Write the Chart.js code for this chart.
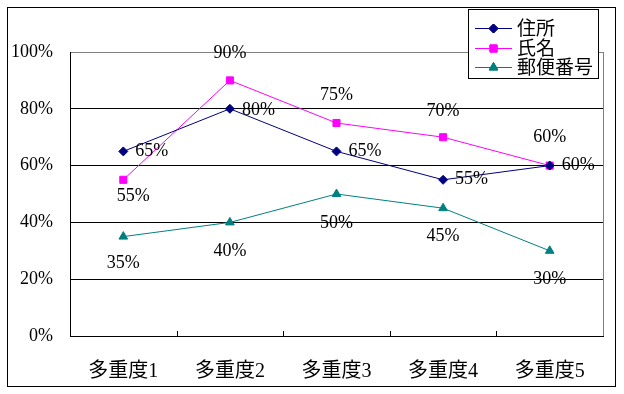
<!DOCTYPE html>
<html>
<head>
<meta charset="utf-8">
<script src="https://cdn.jsdelivr.net/npm/chart.js@4.4.0/dist/chart.umd.min.js"></script>
<style>
  body { margin: 0; background: #fff; }
  canvas { display: block; }
</style>
</head>
<body>
<canvas id="dataChart" width="624" height="394"></canvas>
<script>
// data
var categories = ['多重度1', '多重度2', '多重度3', '多重度4', '多重度5'];
var seriesNames = ['住所', '氏名', '郵便番号'];
var jusho = [65, 80, 65, 55, 60];
var shimei = [55, 90, 75, 70, 60];
var yubin = [35, 40, 50, 45, 30];

// where each value label sits relative to its point [dx, dy, align]
var labelSpots = [
    [[12, 0, 'left'], [12, 1, 'left'], [12, 0, 'left'], [12, -1, 'left'], [12, 0, 'left']],
    [[10, 16, 'center'], [0, -27, 'center'], [0, -28, 'center'], [0, -26, 'center'], [0, -28, 'center']],
    [[0, 27, 'center'], [0, 29, 'center'], [0, 29, 'center'], [0, 28, 'center'], [0, 28, 'center']]
];

var serif = '"Liberation Serif", "Times New Roman", "Noto Sans CJK JP", serif';
var cjk = '"Noto Sans CJK JP", sans-serif';

var valueLabels = {
    id: 'valueLabels',
    afterDatasetsDraw: function(chart) {
        var ctx = chart.ctx;
        ctx.save();
        ctx.font = '18px ' + serif;
        ctx.fillStyle = '#000';
        ctx.textBaseline = 'middle';
        chart.data.datasets.forEach(function(ds, d) {
            chart.getDatasetMeta(d).data.forEach(function(pt, i) {
                var s = labelSpots[d][i];
                ctx.textAlign = s[2];
                ctx.fillText(ds.data[i] + '%', pt.x + s[0], pt.y + s[1]);
            });
        });
        ctx.restore();
    }
};

var frame = {
    id: 'frame',
    beforeDatasetsDraw: function(chart) {
        var ctx = chart.ctx, a = chart.chartArea;
        ctx.save();
        ctx.lineWidth = 1;
        // grey right edge of the plot area
        ctx.strokeStyle = '#808080';
        ctx.beginPath();
        ctx.moveTo(Math.round(a.right) + 0.5, a.top);
        ctx.lineTo(Math.round(a.right) + 0.5, a.bottom);
        ctx.stroke();
        // small inward ticks between categories
        ctx.strokeStyle = '#000';
        var n = categories.length, w = (a.right - a.left) / n;
        ctx.beginPath();
        for (var i = 1; i < n; i++) {
            var x = Math.round(a.left + i * w) + 0.5;
            ctx.moveTo(x, a.bottom - 5);
            ctx.lineTo(x, a.bottom);
        }
        ctx.stroke();
        ctx.restore();
    },
    afterDraw: function(chart) {
        var ctx = chart.ctx;
        ctx.save();
        ctx.lineWidth = 1;
        ctx.strokeStyle = '#000';
        ctx.strokeRect(7.5, 7.5, 608, 379);

        // legend box
        ctx.fillStyle = '#fff';
        ctx.fillRect(468.5, 9.5, 130, 69);
        ctx.strokeRect(468.5, 9.5, 130, 69);
        ctx.font = '19px ' + cjk;
        ctx.textBaseline = 'middle';
        ctx.textAlign = 'left';
        chart.data.datasets.forEach(function(ds, d) {
            var y = 28 + d * 19.5;
            ctx.strokeStyle = ds.borderColor;
            ctx.beginPath();
            ctx.moveTo(475, Math.round(y) + 0.5);
            ctx.lineTo(512, Math.round(y) + 0.5);
            ctx.stroke();
            Chart.helpers.drawPoint(ctx, {
                pointStyle: ds.pointStyle,
                radius: ds.pointRadius,
                rotation: 0,
                borderWidth: 1
            }, 493.5, Math.round(y) + 0.5);
            ctx.fillStyle = ds.pointBackgroundColor;
            ctx.strokeStyle = ds.borderColor;
            ctx.fill();
            ctx.stroke();
            ctx.fillStyle = '#000';
            ctx.fillText(seriesNames[d], 517, y);
        });
        ctx.restore();
    }
};

function line(label, data, color, style, r) {
    return {
        label: label,
        data: data,
        borderColor: color,
        backgroundColor: color,
        pointBackgroundColor: color,
        pointBorderColor: color,
        borderWidth: 1,
        pointStyle: style,
        pointRadius: r,
        pointHoverRadius: r,
        tension: 0
    };
}

var ctx = document.getElementById('dataChart').getContext('2d');

var myChart = new Chart(ctx, {
    type: 'line',
    data: {
        labels: categories,
        datasets: [
            line(seriesNames[0], jusho, '#000080', 'rectRot', 4.5),
            line(seriesNames[1], shimei, '#FF00FF', 'rect', 5),
            line(seriesNames[2], yubin, '#008080', 'triangle', 5)
        ]
    },
    options: {
        responsive: false,
        animation: false,
        layout: { padding: { left: 0, right: 21, top: 52, bottom: 0 } },
        plugins: {
            legend: { display: false },
            tooltip: { enabled: false }
        },
        scales: {
            x: {
                offset: true,
                grid: { display: false, drawTicks: false },
                border: { display: true, color: '#000', width: 1 },
                ticks: {
                    padding: 24,
                    color: '#000',
                    font: { family: serif, size: 20 },
                    maxRotation: 0
                },
                afterFit: function(scale) { scale.height = 58; }
            },
            y: {
                min: 0,
                max: 100,
                grid: {
                    drawTicks: false,
                    color: function(c) { return c.tick && c.tick.value === 100 ? '#808080' : '#000'; },
                    lineWidth: 1
                },
                border: { display: true, color: '#000', width: 1 },
                ticks: {
                    stepSize: 20,
                    padding: 17,
                    color: '#000',
                    font: { family: serif, size: 18 },
                    callback: function(v) { return v + '%'; }
                },
                afterFit: function(scale) { scale.width = 70; }
            }
        }
    },
    plugins: [frame, valueLabels]
});
</script>
</body>
</html>
